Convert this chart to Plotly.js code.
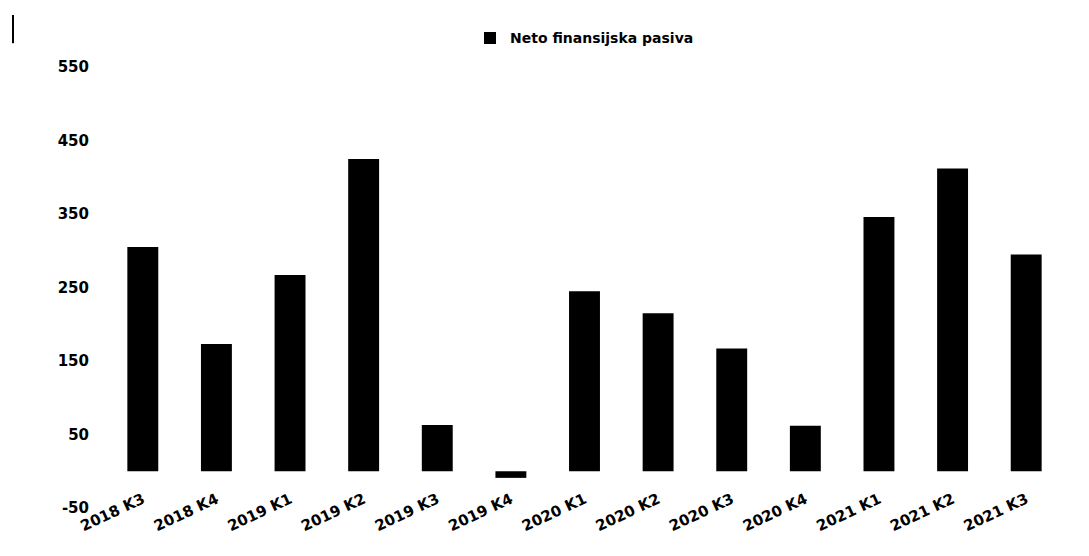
<!DOCTYPE html>
<html>
<head>
<meta charset="utf-8">
<script src="https://cdn.plot.ly/plotly-3.0.1.min.js"></script>
<style>html,body{margin:0;padding:0;background:#fff;}#chart{width:1089px;height:556px;}</style>
</head>
<body>
<div id="chart"></div>
<script>
const categories = ["2018 K3","2018 K4","2019 K1","2019 K2","2019 K3","2019 K4","2020 K1","2020 K2","2020 K3","2020 K4","2021 K1","2021 K2","2021 K3"];
const values = [305, 173, 267, 425, 63, -9, 245, 215, 167, 62, 346, 412, 295];
const seriesName = "Neto finansijska pasiva";
const yTicks = [-50, 50, 150, 250, 350, 450, 550];

const fam = "'DejaVu Sans', sans-serif";
const font = {family: fam, size: 15, color: "#000", weight: 700};

const trace = {
  type: "bar",
  x: categories,
  y: values,
  name: seriesName,
  marker: {color: "#000"},
  showlegend: true
};

const layout = {
  width: 1089, height: 556,
  margin: {l: 106, r: 26, t: 67, b: 48},
  paper_bgcolor: "#fff", plot_bgcolor: "#fff",
  font: font,
  bargap: 0.58,
  showlegend: true,
  legend: {orientation: "h", x: 0.5, xanchor: "center", y: 1.065, yanchor: "middle", font: {family: fam, size: 14, color: "#000", weight: 700}},
  xaxis: {type: "category", tickangle: -25, showgrid: false, zeroline: false, showline: false, ticks: "", tickfont: font, ticklabelstandoff: -21},
  yaxis: {range: [-50, 550], tickvals: yTicks, ticktext: yTicks.map(String), showgrid: false, zeroline: false, showline: false, ticks: "", tickfont: font, ticklabelstandoff: 16},
  shapes: [
    {type: "line", xref: "paper", yref: "paper", x0: -0.0972, x1: -0.0972, y0: 1.054, y1: 1.118, line: {color: "#000", width: 2}}
  ]
};

Plotly.newPlot("chart", [trace], layout, {displayModeBar: false, staticPlot: true});
</script>
</body>
</html>
